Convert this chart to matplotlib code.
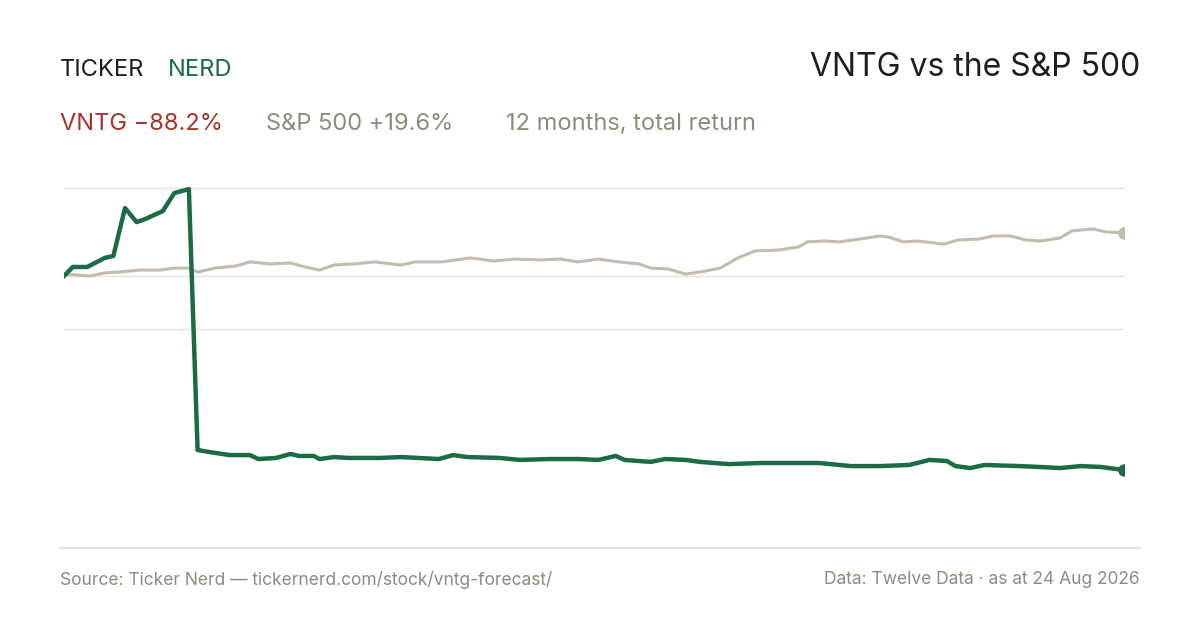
import matplotlib
matplotlib.use("Agg")
import matplotlib.pyplot as plt
from matplotlib.lines import Line2D

vntg_day = [0,3,8,14,17,21,25,28,34,38,43,46,50,57,64,67,73,78,81,86,88,93,98,109,116,122,129,134,139,150,
            157,167,177,184,190,193,202,207,214,219,229,240,250,260,271,281,291,298,304,307,312,317,329,336,343,350,357,365]
vntg_pct = [0,4.1,4.1,8.2,9.1,30.9,24.5,25.9,29.5,37.7,39.5,-79.1,-80,-81.4,-81.4,-83.2,-82.7,-80.9,-81.8,-81.8,
            -83.2,-82.3,-82.7,-82.7,-82.3,-82.7,-83.2,-81.4,-82.3,-82.7,-83.6,-83.2,-83.2,-83.6,-81.8,-83.6,-84.5,-83.2,-83.6,-84.5,
            -85.5,-85,-85,-85,-86.4,-86.4,-85.9,-83.6,-84.1,-86.4,-87.3,-85.9,-86.4,-86.8,-87.3,-86.4,-86.8,-88.2]
spx_day = [0,9,14,19,26,33,38,43,46,52,59,64,71,78,83,88,93,100,107,116,121,130,135,140,148,155,164,171,177,184,
           191,198,202,208,214,219,226,232,238,246,253,256,262,267,274,281,284,289,294,303,308,315,320,326,331,336,343,347,354,359,365]
spx_pct = [0.9,0,1.4,1.8,2.7,2.7,3.6,3.6,1.8,3.6,4.5,6.4,5.5,5.9,4.1,2.7,5,5.5,6.4,5,6.4,6.4,7.3,8.2,6.8,7.7,7.3,7.7,6.4,7.7,
           6.4,5.5,3.6,3.2,0.9,1.8,3.6,8.2,11.4,11.8,13.2,15.5,15.9,15.5,16.8,18.2,17.7,15.5,15.9,14.5,16.4,16.8,18.2,18.2,16.4,15.9,17.3,20.5,21.4,20,19.6]
grid_vals = [40, 0, -24]

GREEN = "#1b6b45"; GRAY = "#c2bcae"; RED = "#a83228"; MUTED = "#8f8a7c"; DARK = "#1e1e1e"
plt.rcParams['font.family'] = ['Inter', 'DejaVu Sans']
W, H = 1200, 630
fig = plt.figure(figsize=(12, 6.3), dpi=100)
def fy(p): return 1 - p / H
ax = fig.add_axes([64/W, fy(540), (1124-64)/W, (540-150)/H])
ax.set_xlim(0, 365)
ax.set_ylim((276-540)/2.2, (276-150)/2.2)
ax.axis("off")
for g in grid_vals:
    ax.axhline(g, color="#e6e4de", lw=1, zorder=0)
ax.plot(spx_day, spx_pct, color=GRAY, lw=2.2, zorder=2, solid_joinstyle="round")
ax.plot(vntg_day, vntg_pct, color=GREEN, lw=3.2, zorder=3, solid_joinstyle="round")
ax.plot(spx_day[-1], spx_pct[-1], "o", color=GRAY, ms=8, zorder=4)
ax.plot(vntg_day[-1], vntg_pct[-1], "o", color=GREEN, ms=8, zorder=4)

fig.add_artist(Line2D([60/W, 1140/W], [fy(548), fy(548)], color="#dcd9d0", lw=1.2))
fig.text(60/W, fy(70), "TICKER", fontsize=17, color=DARK, va="center", ha="left")
fig.text(168/W, fy(70), "NERD", fontsize=17, color=GREEN, va="center", ha="left")
fig.text(1140/W, fy(67), "VNTG vs the S&P 500", fontsize=23, color=DARK, va="center", ha="right")
fig.text(60/W, fy(124), "VNTG \u221288.2%", fontsize=17, color=RED, va="center")
fig.text(266/W, fy(124), "S&P 500 +19.6%", fontsize=17, color=MUTED, va="center")
fig.text(506/W, fy(124), "12 months, total return", fontsize=17, color=MUTED, va="center")
fig.text(60/W, fy(580), "Source: Ticker Nerd \u2014 tickernerd.com/stock/vntg-forecast/", fontsize=12.5, color=MUTED, va="center")
fig.text(1140/W, fy(580), "Data: Twelve Data \u00b7 as at 24 Aug 2026", fontsize=12.5, color=MUTED, va="center", ha="right")
fig.savefig("out.png", dpi=100, facecolor="white")
